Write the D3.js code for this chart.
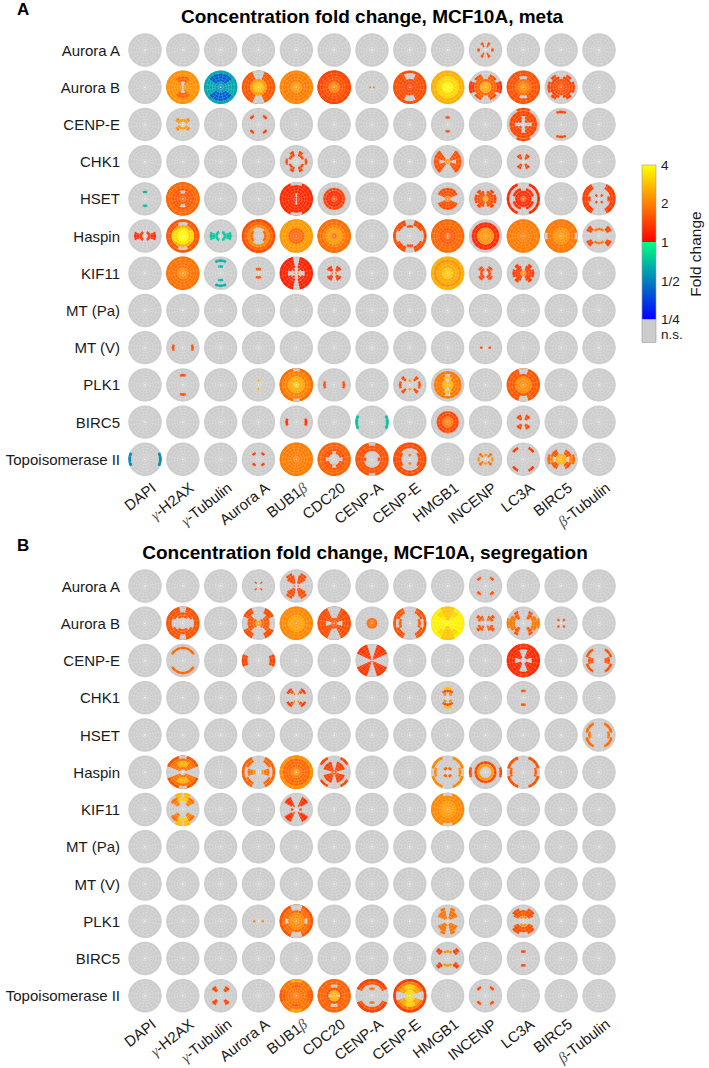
<!DOCTYPE html>
<html><head>
<meta charset="utf-8">
<title>Concentration fold change</title>
<script src="https://cdn.jsdelivr.net/npm/d3@7"></script>
<style>
body { margin: 0; background: #fff; }
text { font-family: "Liberation Sans", Arial, sans-serif; fill: #1a1a1a; }
.domain { display: none; }
.greek { font-family: "Liberation Serif", serif; font-style: italic; fill: #555; }
</style>
</head>
<body>
<script>
var rowNames = ["Aurora A", "Aurora B", "CENP-E", "CHK1", "HSET", "Haspin", "KIF11", "MT (Pa)", "MT (V)", "PLK1", "BIRC5", "Topoisomerase II"];
var colNames = ["DAPI", "\u03b3-H2AX", "\u03b3-Tubulin", "Aurora A", "BUB1\u03b2", "CDC20", "CENP-A", "CENP-E", "HMGB1", "INCENP", "LC3A", "BIRC5", "\u03b2-Tubulin"];
var foldTicks = [0.25, 0.5, 1, 2, 4];
var foldTickLabels = ["1/4", "1/2", "1", "2", "4"];

// each cell: [row, col, patches]
// a patch: [first ring, last ring, from deg, to deg, fold], rings 0-5 from the centre,
// degrees from the horizontal in one quadrant (mirrored to the other three), fold 0 = n.s.
var metaCells = [
  [0, 9, [[2,2,0,14,1.5],[1,2,50,72,1.5]]],

  [1, 1, [[0,5,0,90,2.2],[1,3,50,90,1.7],[0,1,65,90,0]]],
  [1, 2, [[0,5,0,90,.62],[1,4,35,90,.42],[0,1,0,90,.55]]],
  [1, 3, [[0,5,0,90,1.6],[2,2,0,90,2.3],[0,1,0,90,2.8],[3,5,68,90,0]]],
  [1, 4, [[0,5,0,90,2.1],[2,4,0,90,1.95],[0,1,0,90,2.25]]],
  [1, 5, [[0,5,0,90,1.55],[4,5,0,90,1.45],[0,1,0,90,2]]],
  [1, 6, [[0,0,0,25,1.5]]],
  [1, 7, [[0,5,0,90,1.5],[0,1,0,90,1.4],[3,4,65,90,0]]],
  [1, 8, [[0,5,0,90,2.6],[0,3,0,90,3.2],[0,1,0,90,3.8]]],
  [1, 9, [[2,3,0,90,1.7],[0,1,0,90,2.4],[4,5,0,22,1.35],[4,4,35,70,1.5],[3,3,75,90,0]]],
  [1, 10, [[0,5,0,90,1.55],[2,2,0,90,1.8],[0,1,0,90,2],[3,3,68,90,0]]],
  [1, 11, [[0,2,0,90,1.5],[3,3,0,80,1.4],[4,4,0,25,1.4],[4,4,40,65,1.4]]],

  [2, 1, [[1,1,15,90,2.3],[2,2,25,55,2.1]]],
  [2, 3, [[3,3,35,62,1.45]]],
  [2, 8, [[2,2,72,90,1.5]]],
  [2, 10, [[2,4,0,90,1.45],[1,1,25,65,1.45],[5,5,65,90,1.5],[2,2,0,15,0],[2,2,75,90,0]]],
  [2, 11, [[4,4,68,90,1.45]]],

  [3, 4, [[3,3,0,18,1.5],[2,2,20,50,1.45],[2,3,50,75,1.45]]],
  [3, 8, [[1,4,15,55,1.55],[3,4,0,15,1.55],[0,0,0,90,2.2]]],
  [3, 10, [[1,2,35,70,1.45]]],

  [4, 0, [[2,2,72,90,.68]]],
  [4, 1, [[0,5,0,90,1.6],[4,5,0,90,1.75],[2,2,70,90,0]]],
  [4, 4, [[0,5,0,90,1.25],[5,5,68,90,0],[0,1,78,90,0]]],
  [4, 5, [[3,3,0,90,1.45],[0,2,0,90,1.25],[0,0,0,90,1.5]]],
  [4, 8, [[1,3,25,90,1.5],[0,0,0,90,2]]],
  [4, 9, [[1,2,0,80,1.5],[3,3,0,25,1.4],[3,3,35,60,1.4],[0,0,0,90,2.3]]],
  [4, 10, [[5,5,0,68,1.25],[0,2,0,90,1.25],[3,3,15,75,1.3],[0,0,0,90,1.6]]],
  [4, 12, [[4,5,0,62,1.4],[3,3,0,15,1.4],[1,1,35,65,1.45]]],

  [5, 0, [[2,3,0,22,1.25],[1,1,0,65,1.3]]],
  [5, 1, [[0,5,0,90,1.6],[0,3,0,90,2.6],[0,2,0,90,3.4],[0,3,0,35,3.2],[0,1,0,90,3.9],[4,4,68,90,0]]],
  [5, 2, [[2,3,0,22,.72],[1,1,0,70,.72]]],
  [5, 3, [[0,5,0,90,1.7],[5,5,0,90,1.5],[3,3,0,90,2.1],[0,2,45,90,0],[0,1,0,45,0]]],
  [5, 4, [[0,5,0,90,2.3],[1,2,0,90,1.75],[0,0,0,90,1.5]]],
  [5, 5, [[0,5,0,90,2],[4,5,0,90,1.8],[1,2,0,90,2.3],[0,0,0,90,1.6]]],
  [5, 7, [[3,3,72,90,1.5],[4,5,25,72,1.5],[5,5,0,25,1.5]]],
  [5, 8, [[0,5,0,90,1.75],[1,2,0,90,1.6],[0,0,70,90,0]]],
  [5, 9, [[3,4,0,90,1.25],[0,2,0,90,2.2]]],
  [5, 10, [[0,5,0,90,1.95]]],
  [5, 11, [[0,5,0,90,1.9],[0,2,0,90,2.2],[5,5,0,12,0]]],
  [5, 12, [[3,4,22,50,1.45],[2,2,50,90,1.9]]],

  [6, 1, [[0,5,0,90,1.85],[0,1,0,90,2.1]]],
  [6, 2, [[4,4,65,90,.65],[2,2,70,90,.68]]],
  [6, 3, [[1,1,55,90,1.55]]],
  [6, 4, [[3,5,0,78,1.2],[2,2,20,78,1.2],[1,1,40,65,1.25],[0,0,0,25,2]]],
  [6, 5, [[1,2,25,70,1.35],[0,0,0,30,1.6]]],
  [6, 8, [[0,5,0,90,2.6],[4,4,0,90,2.2],[0,3,0,90,2.5],[0,1,0,90,2.9]]],
  [6, 9, [[1,1,0,75,1.45],[2,2,25,65,1.5]]],
  [6, 10, [[3,3,0,22,1.35],[1,2,0,70,1.4],[2,3,35,60,1.35],[0,0,0,90,2.1]]],

  [8, 1, [[3,3,0,18,1.5]]],
  [8, 9, [[1,1,0,15,1.45]]],

  [9, 1, [[3,3,73,90,1.5]]],
  [9, 3, [[1,1,80,90,2.6]]],
  [9, 4, [[0,5,0,90,2],[5,5,0,90,1.8],[0,2,0,90,2.5],[0,0,0,90,3],[5,5,78,90,0]]],
  [9, 5, [[3,3,0,20,1.5]]],
  [9, 7, [[3,3,0,20,1.5],[2,3,35,55,1.5],[1,1,75,90,2.2]]],
  [9, 8, [[0,4,0,90,1.9],[0,2,60,90,2.8],[0,1,0,60,2.6],[1,1,70,90,0],[3,3,75,90,0]]],
  [9, 10, [[0,5,0,90,1.6],[0,2,0,90,2.1],[4,5,72,90,0]]],

  [10, 4, [[3,3,0,20,1.25]]],
  [10, 6, [[5,5,0,25,.72]]],
  [10, 8, [[0,3,0,90,1.45],[0,1,0,90,1.9],[3,3,72,90,1.6]]],
  [10, 10, [[1,2,30,70,1.45]]],

  [11, 0, [[5,5,0,25,.53]]],
  [11, 3, [[2,2,35,65,1.4]]],
  [11, 4, [[0,5,0,90,1.95]]],
  [11, 5, [[0,5,0,90,1.7],[2,3,0,90,1.55],[0,1,0,90,0],[2,2,0,15,0],[2,2,75,90,0]]],
  [11, 6, [[3,5,0,90,1.55],[5,5,78,90,0],[2,2,0,15,1.5]]],
  [11, 7, [[0,5,0,90,1.5],[0,2,0,90,0],[3,3,40,90,0],[1,1,72,90,1.9]]],
  [11, 9, [[2,2,0,18,2.2],[1,2,30,55,1.8],[1,1,70,90,2.2]]],
  [11, 10, [[4,4,35,65,1.35]]],
  [11, 11, [[4,4,0,22,1.7],[3,3,0,22,2],[2,3,22,65,1.55],[1,1,0,90,2.6],[0,0,0,90,2.6]]]
];

var segregationCells = [
  [0, 3, [[1,1,40,60,1.5]]],
  [0, 4, [[1,3,30,78,1.5],[4,4,40,70,1.5],[0,0,0,20,1.5]]],
  [0, 9, [[3,3,35,62,1.6]]],

  [1, 1, [[4,5,0,90,1.55],[3,3,25,90,1.55],[2,2,50,90,1.6],[4,5,78,90,0]]],
  [1, 3, [[4,5,25,65,1.5],[2,3,0,45,1.6],[1,1,0,60,1.7],[0,0,0,90,2.2]]],
  [1, 4, [[0,5,0,90,2.1],[1,2,0,90,2.4]]],
  [1, 5, [[0,5,0,90,1.5],[3,5,65,90,0],[1,2,0,20,0],[2,2,65,90,0]]],
  [1, 6, [[0,1,0,90,1.75]]],
  [1, 7, [[5,5,0,65,1.55],[4,4,20,65,1.55],[3,3,0,25,1.65]]],
  [1, 8, [[0,5,0,90,3.7],[1,5,65,90,2.9],[3,4,40,65,3.2]]],
  [1, 9, [[2,2,15,70,1.6],[1,1,40,70,1.7],[3,3,30,50,1.5]]],
  [1, 10, [[4,5,0,18,2],[3,4,0,35,1.9],[2,3,35,60,1.6],[4,4,45,65,1.5]]],
  [1, 11, [[1,1,35,65,1.5]]],

  [2, 1, [[4,4,30,90,1.75]]],
  [2, 3, [[4,5,0,22,1.45]]],
  [2, 6, [[0,5,25,72,1.35]]],
  [2, 10, [[1,5,0,90,1.25],[0,3,68,90,0],[1,2,0,20,0],[5,5,72,90,1.4]]],
  [2, 12, [[4,4,15,62,1.55],[2,3,0,20,1.55]]],

  [3, 4, [[3,3,25,62,1.35],[2,2,40,65,1.5],[1,1,55,70,2]]],
  [3, 8, [[3,3,70,90,2.8],[2,2,45,90,1.5],[1,1,30,70,2]]],
  [3, 10, [[2,2,72,90,1.5]]],

  [4, 12, [[4,4,10,65,1.75],[3,3,0,20,1.85]]],

  [5, 1, [[1,5,22,90,1.85],[5,5,22,90,1.55],[2,3,55,90,2.6],[5,5,75,90,0]]],
  [5, 3, [[5,5,0,65,1.7],[4,4,25,65,1.7],[2,3,0,20,1.8],[1,1,0,30,2.3]]],
  [5, 4, [[0,5,0,90,1.9],[2,4,0,90,1.75],[0,0,0,90,2.2],[5,5,0,90,2.2]]],
  [5, 5, [[5,5,30,65,1.45],[1,3,15,75,1.4],[0,0,0,90,1.5]]],
  [5, 8, [[5,5,15,70,2.1],[4,4,0,20,2.1],[1,1,35,80,1.6]]],
  [5, 9, [[3,3,0,90,1.45],[2,2,0,90,2.3],[5,5,0,18,1.5]]],
  [5, 10, [[5,5,15,70,1.55],[4,4,0,20,1.65]]],

  [6, 1, [[2,4,30,62,2],[4,5,62,85,2.7],[4,4,30,62,1.8],[3,3,65,90,3]]],
  [6, 4, [[2,4,30,65,1.3],[1,1,45,65,1.3],[1,1,0,15,1.4]]],
  [6, 8, [[0,5,0,90,2.1],[0,2,0,90,2.3],[5,5,72,90,0]]],

  [9, 3, [[1,1,0,15,2]]],
  [9, 4, [[1,5,0,90,1.8],[5,5,0,90,1.55],[0,2,0,90,2.1],[3,3,0,15,0],[4,5,68,90,0]]],
  [9, 8, [[1,3,25,78,1.85],[4,4,55,78,1.85]]],
  [9, 10, [[2,3,25,90,1.55],[1,1,45,90,2.1],[3,4,35,70,1.5]]],

  [10, 8, [[3,3,25,55,1.45],[2,2,55,90,2.2],[3,4,30,50,1.4]]],
  [10, 10, [[2,2,72,90,1.45]]],

  [11, 2, [[2,3,35,62,1.45]]],
  [11, 4, [[0,5,0,90,1.85],[5,5,68,90,2.5],[3,3,70,90,1.6],[4,5,0,20,1.6]]],
  [11, 5, [[0,5,0,90,1.7],[2,2,0,90,1.55],[0,1,0,90,2.5],[3,3,70,90,0],[1,1,0,15,0]]],
  [11, 6, [[4,5,25,90,1.6],[5,5,25,90,1.4],[2,2,70,90,1.8]]],
  [11, 7, [[0,5,20,90,2.4],[4,4,20,90,1.9],[1,3,60,90,3],[0,1,0,90,3.2],[0,4,0,20,0],[5,5,0,90,1.35]]],
  [11, 9, [[3,3,35,62,1.5]]]
];

var width = 709, height = 1068;
var nsGray = "#cccccc";
var cellRadius = 16.7;

var svg = d3.select("body").append("svg")
  .attr("width", width)
  .attr("height", height)
  .style("display", "block");

var warm = d3.scaleLinear().domain([0, 2]).range(["#ff0000", "#ffff00"]);
var cool = d3.scaleLinear().domain([-2, 0]).range(["#0000ff", "#00ff80"]);
function foldColor(f) {
  if (f == 0) return nsGray;
  var v = Math.log2(f);
  return v >= 0 ? warm(v) : cool(v);
}

var ringScale = d3.scaleLinear().domain([0, 6]).range([0, cellRadius]);
var angleScale = d3.scaleLinear().domain([0, 360]).range([0, 2 * Math.PI]);
var arc = d3.arc();

// turn a quadrant range into clockwise-from-top spans, merged over the axes so no seam shows
function spans(a0, a1) {
  if (a0 == 0 && a1 == 90) return [[0, 360]];
  if (a0 == 0) return [[90 - a1, 90 + a1], [270 - a1, 270 + a1]];
  if (a1 == 90) return [[-(90 - a0), 90 - a0], [90 + a0, 270 - a0]];
  return [[90 - a1, 90 - a0], [90 + a0, 90 + a1], [270 - a1, 270 - a0], [270 + a0, 270 + a1]];
}

function drawPanel(cells, top, bottom, title, letter, titleX, titleY) {
  var x = d3.scalePoint().domain(colNames).range([145, 599]);
  var y = d3.scalePoint().domain(rowNames).range([top, bottom]);

  var g = svg.append("g");
  g.append("text").text(letter)
    .attr("x", 17).attr("y", titleY - 8)
    .attr("font-size", 17).attr("font-weight", "bold").style("fill", "#000");
  g.append("text").text(title)
    .attr("x", titleX).attr("y", titleY)
    .attr("text-anchor", "middle")
    .attr("font-size", 19).attr("font-weight", "bold").style("fill", "#000");

  var lookup = {};
  cells.forEach(function(c) { lookup[c[0] + "_" + c[1]] = c[2]; });

  rowNames.forEach(function(rn, i) {
    colNames.forEach(function(cn, j) {
      var cell = g.append("g")
        .attr("transform", "translate(" + x(cn) + "," + y(rn) + ")");
      cell.append("circle").attr("r", cellRadius).attr("fill", nsGray);

      (lookup[i + "_" + j] || []).forEach(function(p) {
        spans(p[2], p[3]).forEach(function(s) {
          cell.append("path")
            .attr("fill", foldColor(p[4]))
            .attr("d", arc({
              innerRadius: ringScale(p[0]),
              outerRadius: ringScale(p[1] + 1),
              startAngle: angleScale(s[0]),
              endAngle: angleScale(s[1])
            }));
        });
      });

      // polar grid on top
      d3.range(1, 6).forEach(function(r) {
        cell.append("circle").attr("r", ringScale(r))
          .attr("fill", "none").attr("stroke", "#fff")
          .attr("stroke-width", 0.5).attr("stroke-opacity", 0.35);
      });
      d3.range(16).forEach(function(k) {
        var t = angleScale(11.25 + k * 22.5);
        cell.append("line")
          .attr("x1", ringScale(0.5) * Math.sin(t)).attr("y1", -ringScale(0.5) * Math.cos(t))
          .attr("x2", cellRadius * Math.sin(t)).attr("y2", -cellRadius * Math.cos(t))
          .attr("stroke", "#fff").attr("stroke-width", 0.5).attr("stroke-opacity", 0.3);
      });
      cell.append("circle").attr("r", 0.9).attr("fill", "#fff").attr("fill-opacity", 0.75);
    });
  });

  var rowAxis = g.append("g")
    .attr("transform", "translate(120,0)")
    .call(d3.axisLeft(y).tickSize(0).tickPadding(0));
  rowAxis.selectAll("text").attr("font-size", 15).attr("font-family", null).attr("dy", "0.34em");

  var colAxis = g.append("g")
    .attr("transform", "translate(0," + (bottom + 22) + ")")
    .call(d3.axisBottom(x).tickSize(0).tickPadding(0));
  colAxis.selectAll("text")
    .attr("font-size", 15)
    .attr("font-family", null)
    .attr("text-anchor", "end")
    .attr("dy", "0.72em")
    .attr("transform", "translate(5,0) rotate(-38)")
    .each(function(d) {
      var t = d3.select(this);
      t.text(null);
      if (d.charAt(0) == "\u03b3" || d.charAt(0) == "\u03b2") {
        t.append("tspan").attr("class", "greek").text(d.charAt(0));
        t.append("tspan").text(d.slice(1));
      } else if (d.slice(-1) == "\u03b2") {
        t.append("tspan").text(d.slice(0, -1));
        t.append("tspan").attr("class", "greek").text("\u03b2");
      } else {
        t.text(d);
      }
    });
}

drawPanel(metaCells, 50, 459.3, "Concentration fold change, MCF10A, meta", "A", 372, 23);
drawPanel(segregationCells, 586, 995.7, "Concentration fold change, MCF10A, segregation", "B", 365, 559);

// colour bar
var barY = d3.scaleLog().base(2).domain([0.25, 4]).range([319.5, 165]);
var defs = svg.append("defs");
var grad = defs.append("linearGradient").attr("id", "foldGrad")
  .attr("x1", 0).attr("x2", 0).attr("y1", 1).attr("y2", 0);
[[0, foldColor(0.25)], [0.5, cool(0)], [0.5, warm(0)], [1, foldColor(4)]].forEach(function(s) {
  grad.append("stop").attr("offset", s[0]).attr("stop-color", s[1]);
});
var bar = svg.append("g");
bar.append("rect")
  .attr("x", 642).attr("width", 14)
  .attr("y", barY(4)).attr("height", barY(0.25) - barY(4))
  .attr("fill", "url(#foldGrad)");
bar.append("rect")
  .attr("x", 642).attr("width", 14)
  .attr("y", barY(0.25)).attr("height", 23)
  .attr("fill", nsGray);
bar.append("rect")
  .attr("x", 642).attr("width", 14)
  .attr("y", barY(4)).attr("height", barY(0.25) - barY(4) + 23)
  .attr("fill", "none").attr("stroke", "#999").attr("stroke-width", 0.6);

var barAxis = bar.append("g")
  .attr("transform", "translate(656,0)")
  .call(d3.axisRight(barY).tickValues(foldTicks)
    .tickFormat(function(d, i) { return foldTickLabels[i]; })
    .tickSize(0).tickPadding(5));
barAxis.selectAll("text").attr("font-size", 13.5).attr("font-family", null);
bar.append("text").text("n.s.")
  .attr("x", 661).attr("y", 338.5)
  .attr("font-size", 13.5);
bar.append("text").text("Fold change")
  .attr("transform", "translate(701,254) rotate(-90)")
  .attr("text-anchor", "middle")
  .attr("font-size", 15.5);
</script>
</body></html>
